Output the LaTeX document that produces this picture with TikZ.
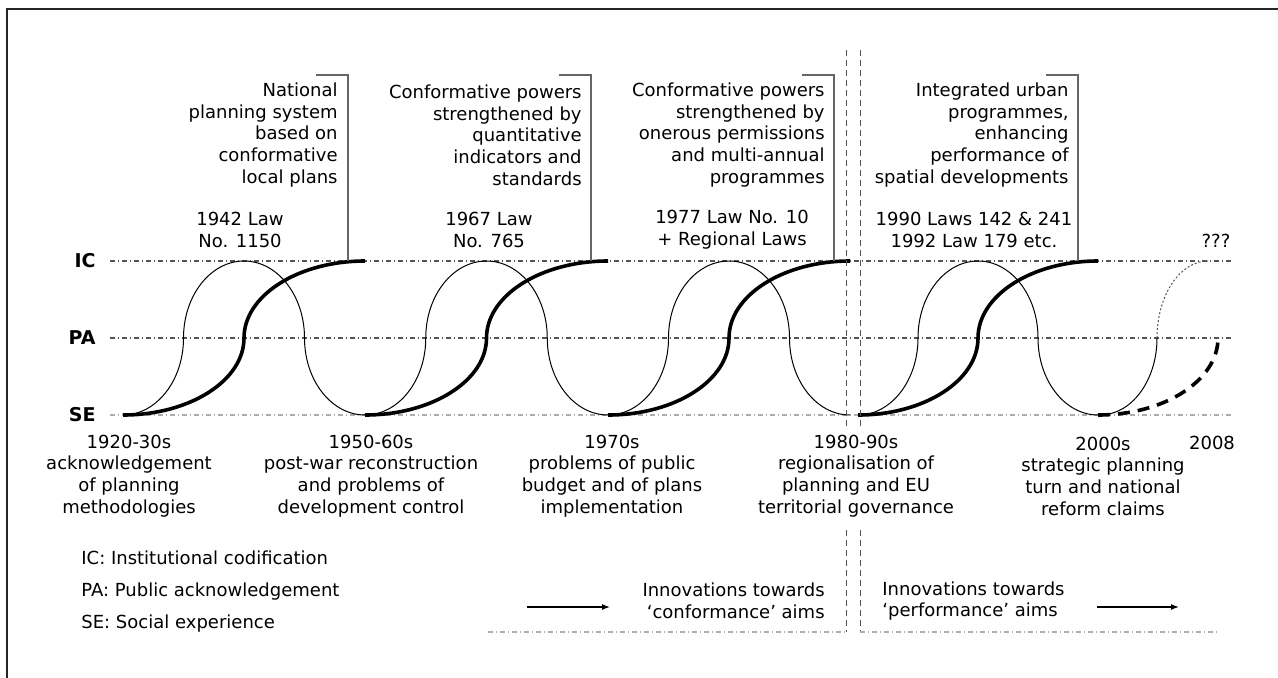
\documentclass[tikz,border=0pt]{standalone}
\usepackage{fontspec}
\setmainfont{DejaVu Sans}
\usetikzlibrary{arrows.meta,positioning,calc}
\definecolor{axisgrey}{rgb}{0.33,0.33,0.33}
\definecolor{lightgrey}{rgb}{0.68,0.68,0.68}
\definecolor{bracketgrey}{rgb}{0.40,0.40,0.40}
\newcommand{\ry}{77}

\begin{document}
\begin{tikzpicture}[x=0.5pt,y=0.5pt,
  font=\fontsize{9}{10.85}\selectfont,
  level/.style={line width=0.6pt,dash pattern=on 2.5pt off 1.5pt on 0.5pt off 1.5pt},
  lvlname/.style={font=\fontsize{9.5}{11}\selectfont\bfseries,anchor=east,inner sep=0pt},
  wave/.style={line width=0.5pt},
  growth/.style={line width=1.8pt},
  note/.style={align=right,anchor=east,inner sep=0pt},
  law/.style={align=center,inner sep=0pt},
  period/.style={align=center,inner sep=0pt},
  key/.style={anchor=west,inner sep=0pt,text height=7pt,text depth=2pt},
  bracket/.style={draw=bracketgrey,line width=0.6pt},
  divider/.style={draw=axisgrey,line width=0.5pt,dash pattern=on 3pt off 2pt}]
\useasboundingbox (0,0) rectangle (1278,677);
\draw[line width=1pt,draw=black!85] (7,-10) -- (7,668) -- (1290,668);

\node[lvlname] (IC) at (96,416) {IC};
\node[lvlname] (PA) at (96,339) {PA};
\node[lvlname] (SE) at (96,262) {SE};
\coordinate (ICs) at (110,416); \coordinate (ICe) at (1232,416);
\coordinate (PAs) at (110,339); \coordinate (PAe) at (1232,339);
\coordinate (SEs) at (110,262); \coordinate (SEe) at (1232,262);
\draw[level,draw=axisgrey] (ICs) -- (ICe);
\draw[level,draw=axisgrey] (PAs) -- (PAe);
\draw[level,draw=lightgrey] (SEs) -- (SEe);

\foreach \s/\w in {123/242,365/243,608/242,858/240}{
  \draw[wave] (\s,262) arc[start angle=-90,end angle=0,x radius=\w/4,y radius=\ry]
    arc[start angle=180,end angle=90,x radius=\w/4,y radius=\ry]
    arc[start angle=90,end angle=0,x radius=\w/4,y radius=\ry]
    arc[start angle=180,end angle=270,x radius=\w/4,y radius=\ry];
  \draw[growth] (\s,262) arc[start angle=-90,end angle=0,x radius=\w/2,y radius=\ry]
    arc[start angle=180,end angle=90,x radius=\w/2,y radius=\ry];
}
\draw[wave] (1100,262) arc[start angle=-90,end angle=0,x radius=57,y radius=\ry];
\draw[wave,draw=axisgrey,dash pattern=on 1pt off 1pt] (1157,339) arc[start angle=180,end angle=90,x radius=51,y radius=\ry];
\draw[growth,dash pattern=on 6pt off 4pt] (1098,262) arc[start angle=-90,end angle=0,x radius=120,y radius=\ry];

\node[note] (n1) at (338,542) {National\\planning system\\based on\\conformative\\local plans};
\node[note] (n2) at (582,542) {Conformative powers\\strengthened by\\quantitative\\indicators and\\standards};
\node[note] (n3) at (825,542) {Conformative powers\\strengthened by\\onerous permissions\\and multi-annual\\programmes};
\node[note] (n4) at (1069,542) {Integrated urban\\programmes,\\enhancing\\performance of\\spatial developments};
\foreach \i/\x in {1/348,2/591,3/834,4/1078}{
  \coordinate (h\i) at (\x-32,602);
  \coordinate (b\i) at (\x,416);
  \draw[bracket] (h\i) -| (b\i);
}

\node[law] (l1) at (240,447) {1942 Law\\No. 1150};
\node[law] (l2) at (489,447) {1967 Law\\No. 765};
\node[law] (l3) at (732,447) {1977 Law No. 10\\+ Regional Laws};
\node[law] (l4) at (974,447) {1990 Laws 142 \& 241\\1992 Law 179 etc.};
\node[inner sep=0pt] (q) at (1216,436) {???};

\node[period] (p1) at (129,201) {1920-30s\\acknowledgement\\of planning\\methodologies};
\node[period] (p2) at (371,201) {1950-60s\\post-war reconstruction\\and problems of\\development control};
\node[period] (p3) at (612,201) {1970s\\problems of public\\budget and of plans\\implementation};
\node[period] (p4) at (856,201) {1980-90s\\regionalisation of\\planning and EU\\territorial governance};
\node[period] (p5) at (1103,201) {2000s\\strategic planning\\turn and national\\reform claims};
\node[inner sep=0pt] (p6) at (1212,234) {2008};

\node[key] (k1) at (81,118) {IC: Institutional codification};
\node[key,below=6.75pt of k1.south west,anchor=north west] (k2) {PA: Public acknowledgement};
\node[key,below=6.75pt of k2.south west,anchor=north west] (k3) {SE: Social experience};

\node[align=right,anchor=east,inner sep=0pt] (i1) at (825,76) {Innovations towards\\‘conformance’ aims};
\node[align=left,anchor=west,inner sep=0pt] (i2) at (882,76) {Innovations towards\\‘performance’ aims};
\coordinate (a1s) at (527,70); \coordinate (a1e) at (610,70);
\coordinate (a2s) at (1097,70); \coordinate (a2e) at (1179,70);
\draw[line width=0.6pt,-{Latex[length=4pt,width=3pt]}] (a1s) -- (a1e);
\draw[line width=0.6pt,-{Latex[length=4pt,width=3pt]}] (a2s) -- (a2e);

\coordinate (d1t) at (846,627); \coordinate (d1m) at (846,250);
\coordinate (d1n) at (846,147); \coordinate (d1b) at (846,45);
\coordinate (d2t) at (860,627); \coordinate (d2m) at (860,250);
\coordinate (d2n) at (860,147); \coordinate (d2b) at (860,45);
\coordinate (f1) at (488,45); \coordinate (f2) at (1219,45);
\draw[divider] (d1t) -- (d1m);
\draw[divider] (d1n) -- (d1b);
\draw[divider] (d2t) -- (d2m);
\draw[divider] (d2n) -- (d2b);
\draw[level,draw=lightgrey] (f1) -- (d1b);
\draw[level,draw=lightgrey] (d2b) -- (f2);
\end{tikzpicture}
\end{document}
